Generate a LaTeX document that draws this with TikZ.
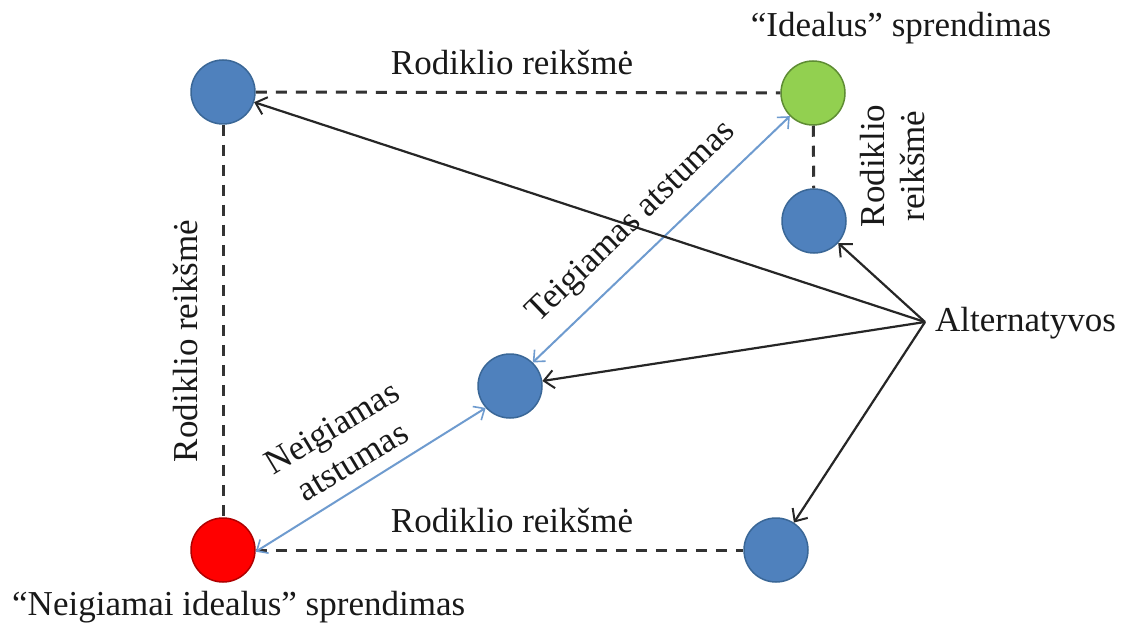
\documentclass[tikz,border=0pt]{standalone}
\usepackage{fontspec}
\setmainfont{Liberation Serif}
\usetikzlibrary{arrows.meta}
\definecolor{cblue}{HTML}{4F81BD}
\definecolor{cblueb}{HTML}{3A6797}
\definecolor{cgreen}{HTML}{92D050}
\definecolor{cgreenb}{HTML}{5E8C33}
\definecolor{cred}{HTML}{FF0000}
\definecolor{credb}{HTML}{B00000}
\definecolor{cline}{HTML}{6E9BCF}
\definecolor{cdash}{HTML}{333333}
\begin{document}
\begin{tikzpicture}[x=1pt,y=-1pt,
  ball/.style={circle,minimum size=64pt,inner sep=0pt,line width=1.5pt},
  bball/.style={ball,fill=cblue,draw=cblueb},
  lbl/.style={font=\fontsize{35}{40}\selectfont,inner sep=0pt,text=black!90},
  dline/.style={draw=cdash,line width=3pt,dash pattern=on 11pt off 9pt},
  altarrow/.style={draw=black!85,line width=2.2pt,-{Straight Barb[length=10pt,width=18pt,line width=2pt]}},
  distarrow/.style={draw=cline,line width=2pt,{Straight Barb[length=9pt,width=16pt,line width=1.6pt]}-{Straight Barb[length=9pt,width=16pt,line width=1.6pt]}}
]
\fill[white] (0,0) rectangle (1127,631);
\useasboundingbox (0,0) rectangle (1127,631);

% circles
\node[bball] (tl) at (223,92) {};
\node[ball,fill=cgreen,draw=cgreenb] (ideal) at (813,93) {};
\node[bball] (rb) at (814,221) {};
\node[bball] (cb) at (510,386) {};
\node[ball,fill=cred,draw=credb] (neg) at (223,550) {};
\node[bball] (br) at (776,550) {};
\coordinate (alt) at (925,322);

% dashed lines
\draw[dline] (tl) -- (ideal);
\draw[dline] (tl) -- (neg);
\draw[dline] (neg) -- (br);
\draw[dline] (ideal) -- (rb);

% distance arrows
\draw[distarrow] (cb.46) -- (ideal.225);
\draw[distarrow] (neg.-3) -- (cb.-138);

% alternative arrows
\draw[altarrow] (alt) -- (tl);
\draw[altarrow] (alt) -- (rb);
\draw[altarrow] (alt) -- (cb);
\draw[altarrow] (alt) -- (br);

% labels
\node[lbl] (ltop) at (512,62) {Rodiklio reikšmė};
\node[lbl] (lbot) at (512,520) {Rodiklio reikšmė};
\node[lbl,rotate=90] (lleft) at (185,341) {Rodiklio reikšmė};
\node[lbl,rotate=90,align=center] (lright) at (893,166) {Rodiklio\\reikšmė};
\node[lbl] (lideal) at (901,28) {“Idealus” sprendimas};
\node[lbl,anchor=west] (lneg) at (12,607) {“Neigiamai idealus” sprendimas};
\node[lbl,anchor=west] (lalt) at (935,323) {Alternatyvos};
\node[lbl,rotate=44] (lpos) at (632,223) {Teigiamas atstumas};
\node[lbl,rotate=31,align=center] (lnegd) at (342,444) {Neigiamas\\atstumas};
\end{tikzpicture}
\end{document}
